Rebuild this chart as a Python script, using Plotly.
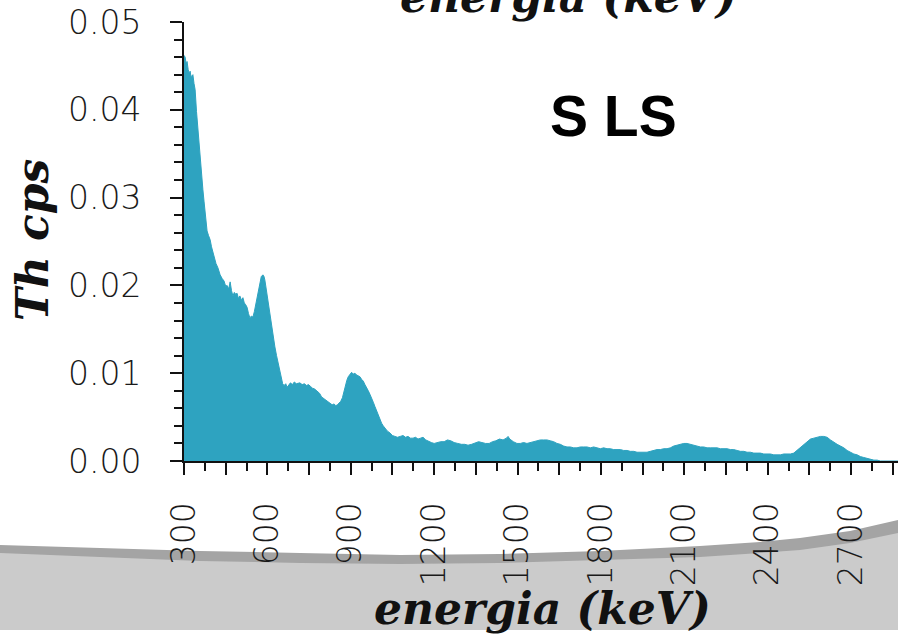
import plotly.graph_objects as go

# ---- data ----
energy_kev = [300, 304, 308, 311, 315, 319, 322, 326, 329, 332, 336, 340, 345, 350, 354, 358, 363, 368, 372, 376,
              380, 383, 388, 394, 399, 404, 409, 415, 422, 430, 437, 444, 450, 455, 461, 466, 471, 476, 481, 486,
              491, 496, 501, 507, 512, 517, 522, 527, 532, 537, 542, 548, 553, 558, 563, 568, 573, 578, 584, 588,
              591, 596, 602, 609, 617, 622, 627, 633, 638, 644, 649, 655, 660, 666, 671, 677, 683, 690, 697, 704,
              711, 717, 725, 733, 741, 748, 755, 762, 770, 779, 788, 795, 803, 811, 818, 825, 833, 840, 846, 852,
              858, 864, 870, 875, 880, 886, 891, 897, 903, 909, 915, 921, 927, 933, 939, 945, 951, 957, 963, 969,
              975, 981, 987, 993, 999, 1005, 1011, 1017, 1023, 1032, 1041, 1050, 1059, 1068, 1078, 1088, 1097, 1106,
              1115, 1124, 1133, 1142, 1151, 1160, 1170, 1180, 1190, 1200, 1212, 1224, 1236, 1248, 1260, 1272, 1285,
              1298, 1310, 1322, 1335, 1348, 1360, 1372, 1385, 1398, 1410, 1422, 1435, 1448, 1460, 1466, 1472, 1485,
              1498, 1510, 1522, 1534, 1546, 1558, 1570, 1582, 1594, 1606, 1618, 1630, 1642, 1654, 1666, 1678, 1690,
              1702, 1714, 1726, 1738, 1750, 1762, 1774, 1786, 1798, 1810, 1822, 1834, 1846, 1858, 1870, 1882, 1894,
              1906, 1918, 1930, 1942, 1954, 1966, 1978, 1990, 2002, 2014, 2026, 2038, 2050, 2062, 2074, 2086, 2098,
              2110, 2122, 2134, 2146, 2158, 2170, 2182, 2194, 2206, 2218, 2230, 2242, 2254, 2266, 2278, 2290, 2302,
              2314, 2326, 2338, 2350, 2362, 2374, 2386, 2398, 2410, 2422, 2434, 2446, 2458, 2470, 2482, 2494, 2506,
              2518, 2530, 2542, 2554, 2566, 2578, 2590, 2602, 2614, 2626, 2638, 2650, 2662, 2674, 2686, 2698, 2710,
              2722, 2734, 2746, 2758, 2770, 2782, 2794, 2806, 2869]
th_cps = [0.0462, 0.0460, 0.0452, 0.0455, 0.0446, 0.0441, 0.0444, 0.0436, 0.0439, 0.0440, 0.0430, 0.0423, 0.0398,
          0.0377, 0.0360, 0.0346, 0.0327, 0.0309, 0.0296, 0.0285, 0.0270, 0.0262, 0.0257, 0.0252, 0.0244, 0.0237,
          0.0232, 0.0225, 0.0220, 0.0212, 0.0208, 0.0205, 0.0199, 0.0200, 0.0196, 0.0204, 0.0194, 0.0188, 0.0192,
          0.0190, 0.0191, 0.0185, 0.0188, 0.0183, 0.0186, 0.0180, 0.0178, 0.0175, 0.0168, 0.0163, 0.0165, 0.0164,
          0.0170, 0.0178, 0.0187, 0.0196, 0.0205, 0.0210, 0.0212, 0.0210, 0.0206, 0.0195, 0.0183, 0.0170, 0.0153,
          0.0141, 0.0130, 0.0120, 0.0112, 0.0103, 0.0095, 0.0088, 0.0086, 0.0088, 0.0084, 0.0087, 0.0089, 0.0087,
          0.0090, 0.0088, 0.0089, 0.0089, 0.0087, 0.0088, 0.0086, 0.0087, 0.0085, 0.0083, 0.0082, 0.0080, 0.0077,
          0.0073, 0.0071, 0.0069, 0.0067, 0.0066, 0.0064, 0.0065, 0.0063, 0.0064, 0.0066, 0.0068, 0.0072, 0.0079,
          0.0086, 0.0092, 0.0096, 0.0098, 0.0101, 0.0099, 0.0100, 0.0098, 0.0097, 0.0096, 0.0093, 0.0091, 0.0087,
          0.0084, 0.0080, 0.0076, 0.0072, 0.0067, 0.0062, 0.0057, 0.0052, 0.0047, 0.0043, 0.0040, 0.0037, 0.0034,
          0.0032, 0.0029, 0.0028, 0.0027, 0.0028, 0.0029, 0.0027, 0.0028, 0.0026, 0.0026, 0.0027, 0.0025, 0.0026,
          0.0027, 0.0024, 0.0022, 0.0021, 0.0020, 0.0021, 0.0022, 0.0022, 0.0024, 0.0023, 0.0021, 0.0020, 0.0019,
          0.0019, 0.0018, 0.0019, 0.0021, 0.0022, 0.0021, 0.0020, 0.0020, 0.0022, 0.0023, 0.0025, 0.0024, 0.0026,
          0.0028, 0.0025, 0.0022, 0.0020, 0.0020, 0.0021, 0.0020, 0.0021, 0.0022, 0.0023, 0.0024, 0.0024, 0.0024,
          0.0023, 0.0022, 0.0020, 0.0019, 0.0017, 0.0016, 0.0016, 0.0015, 0.0015, 0.0016, 0.0016, 0.0016, 0.0015,
          0.0016, 0.0015, 0.0014, 0.0015, 0.0014, 0.0014, 0.0013, 0.0013, 0.0013, 0.0012, 0.0012, 0.0011, 0.0011,
          0.0010, 0.0010, 0.0010, 0.0010, 0.0011, 0.0012, 0.0013, 0.0013, 0.0014, 0.0014, 0.0015, 0.0017, 0.0018,
          0.0019, 0.0020, 0.0020, 0.0019, 0.0018, 0.0017, 0.0016, 0.0016, 0.0015, 0.0015, 0.0015, 0.0015, 0.0014,
          0.0014, 0.0014, 0.0013, 0.0013, 0.0012, 0.0011, 0.0011, 0.0010, 0.0010, 0.0009, 0.0009, 0.0009, 0.0008,
          0.0008, 0.0008, 0.0007, 0.0007, 0.0007, 0.0008, 0.0008, 0.0008, 0.0009, 0.0012, 0.0015, 0.0019, 0.0022,
          0.0025, 0.0026, 0.0027, 0.0028, 0.0028, 0.0027, 0.0024, 0.0021, 0.0019, 0.0017, 0.0015, 0.0012, 0.0010,
          0.0008, 0.0007, 0.0005, 0.0004, 0.0003, 0.0002, 0.0001, 0.0001, 0.0000, 0.0000]

x_major_ticks = [300, 450, 600, 750, 900, 1050, 1200, 1350, 1500, 1650, 1800, 1950, 2100, 2250, 2400, 2550, 2700, 2850]
x_tick_labels = ["300", "", "600", "", "900", "", "1200", "", "1500", "", "1800", "", "2100", "", "2400", "", "2700", ""]

x_title = "energia (keV)"
y_title = "Th cps"
panel_label = "S LS"

# ---- layout geometry (pixels) ----
W, H = 898, 639
ML, MR, MT, MB = 184, 0, 22, 178
PW, PH = W - ML - MR, H - MT - MB


def px(x):
    return (x - ML) / PW


def py(y):
    return (H - MB - y) / PH


fill_color = "#2ea3c0"
tick_font = dict(family="DejaVu Sans", size=33, color="#1a1a1a", weight=200)
title_font = dict(family="DejaVu Serif", size=44, color="#111111", style="italic", weight="bold")

fig = go.Figure()
fig.add_trace(go.Scatter(
    x=energy_kev, y=th_cps, mode="lines", fill="tozeroy",
    line=dict(color=fill_color, width=1), fillcolor=fill_color,
    hoverinfo="skip", showlegend=False,
))

# decorative grey swoosh at the bottom (slide background)
top_curve = [(0, 545), (100, 548), (200, 551), (300, 553), (400, 555), (500, 554), (600, 551), (700, 546),
             (760, 542), (800, 538), (850, 531), (898, 520)]
band_curve = [(0, 553), (100, 557), (200, 561), (300, 563), (400, 564), (500, 563), (600, 560), (700, 557),
              (760, 553), (800, 550), (850, 543), (898, 533)]
bottom_y = 630


def path_from(curve):
    s = "M %f,%f " % (px(curve[0][0]), py(curve[0][1]))
    for (a, b) in curve[1:]:
        s += "L %f,%f " % (px(a), py(b))
    s += "L %f,%f L %f,%f Z" % (px(W), py(bottom_y), px(0), py(bottom_y))
    return s


fig.add_shape(type="path", xref="paper", yref="paper", path=path_from(top_curve),
              fillcolor="#a4a4a4", line=dict(width=0), layer="below")
fig.add_shape(type="path", xref="paper", yref="paper", path=path_from(band_curve),
              fillcolor="#cbcbcb", line=dict(width=0), layer="below")

annotations = [
    dict(text=x_title, x=px(542), y=py(608), xref="paper", yref="paper", showarrow=False,
         xanchor="center", yanchor="middle", font=title_font),
    dict(text=x_title, x=px(568), y=py(-3), xref="paper", yref="paper", showarrow=False,
         xanchor="center", yanchor="middle", font=title_font),
    dict(text=y_title, x=px(33), y=py(240), xref="paper", yref="paper", showarrow=False,
         xanchor="center", yanchor="middle", textangle=-90, font=title_font),
    dict(text="<b>%s</b>" % panel_label, x=px(613), y=py(116), xref="paper", yref="paper", showarrow=False,
         xanchor="center", yanchor="middle",
         font=dict(family="Liberation Sans", size=57, color="#000000")),
]

fig.update_layout(
    width=W, height=H,
    margin=dict(l=ML, r=MR, t=MT, b=MB, pad=0),
    paper_bgcolor="white", plot_bgcolor="white",
    showlegend=False,
    annotations=annotations,
    xaxis=dict(
        range=[300, 2869], showgrid=False, zeroline=False,
        showline=True, linecolor="#111111", linewidth=2,
        tickmode="array", tickvals=x_major_ticks, ticktext=x_tick_labels,
        ticks="outside", ticklen=12, tickwidth=2, tickcolor="#111111",
        tickangle=-90, tickfont=tick_font, ticklabelstandoff=14,
        minor=dict(dtick=75, tick0=300, ticks="outside", ticklen=8, tickwidth=2, tickcolor="#111111"),
    ),
    yaxis=dict(
        range=[0, 0.05], showgrid=False, zeroline=False,
        showline=True, linecolor="#111111", linewidth=2,
        tickmode="linear", tick0=0, dtick=0.01, tickformat=".2f",
        ticks="outside", ticklen=12, tickwidth=2, tickcolor="#111111",
        tickfont=tick_font, ticklabelstandoff=22,
        minor=dict(dtick=0.002, ticks="outside", ticklen=8, tickwidth=2, tickcolor="#111111"),
    ),
)

fig.write_html("out.html")
